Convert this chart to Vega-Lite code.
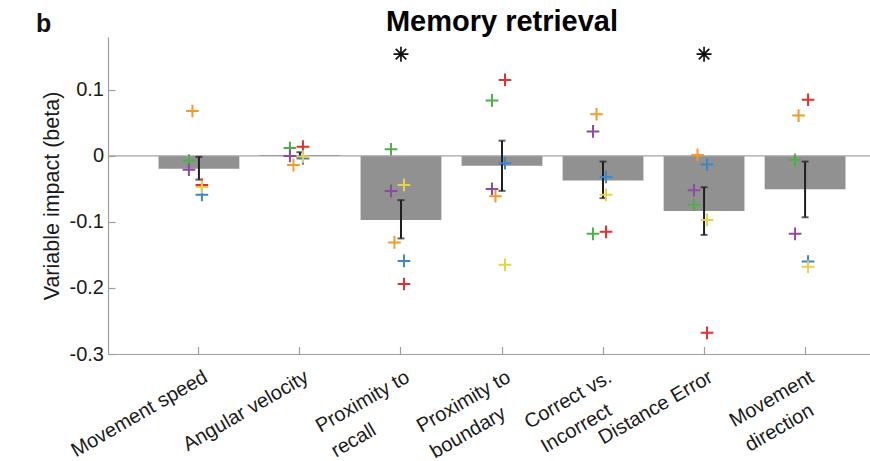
{
  "$schema": "https://vega.github.io/schema/vega-lite/v6.json",
  "background": "white",
  "padding": {"left": 36, "top": 8, "right": 0, "bottom": 0},
  "config": {
    "font": "Liberation Sans",
    "view": {"stroke": null}
  },
  "title": {
    "text": "b",
    "anchor": "start",
    "frame": "bounds",
    "fontSize": 25,
    "fontWeight": "bold",
    "color": "#111111",
    "dx": -5,
    "offset": -29
  },
  "datasets": {
    "bars": [
      {"variable": "Movement speed", "mean": -0.0195, "lo": -0.036, "hi": -0.0015},
      {"variable": "Angular velocity", "mean": 0.0012, "lo": -0.002, "hi": 0.0055},
      {"variable": "Proximity to\nrecall", "mean": -0.097, "lo": -0.125, "hi": -0.067},
      {"variable": "Proximity to\nboundary", "mean": -0.0148, "lo": -0.053, "hi": 0.023},
      {"variable": "Correct vs.\nIncorrect", "mean": -0.0373, "lo": -0.064, "hi": -0.0086},
      {"variable": "Distance Error", "mean": -0.0833, "lo": -0.1197, "hi": -0.0475},
      {"variable": "Movement\ndirection", "mean": -0.0505, "lo": -0.093, "hi": -0.0086}
    ],
    "subjects": [
      {"variable": "Movement speed", "subject": "S1", "beta": -0.044},
      {"variable": "Movement speed", "subject": "S2", "beta": -0.059},
      {"variable": "Movement speed", "subject": "S3", "beta": -0.007},
      {"variable": "Movement speed", "subject": "S4", "beta": -0.021},
      {"variable": "Movement speed", "subject": "S5", "beta": 0.068},
      {"variable": "Movement speed", "subject": "S6", "beta": -0.047},
      {"variable": "Angular velocity", "subject": "S1", "beta": 0.014},
      {"variable": "Angular velocity", "subject": "S2", "beta": -0.004},
      {"variable": "Angular velocity", "subject": "S3", "beta": 0.012},
      {"variable": "Angular velocity", "subject": "S4", "beta": 0.0},
      {"variable": "Angular velocity", "subject": "S5", "beta": -0.014},
      {"variable": "Angular velocity", "subject": "S6", "beta": -0.001},
      {"variable": "Proximity to\nrecall", "subject": "S1", "beta": -0.194},
      {"variable": "Proximity to\nrecall", "subject": "S2", "beta": -0.159},
      {"variable": "Proximity to\nrecall", "subject": "S3", "beta": 0.010},
      {"variable": "Proximity to\nrecall", "subject": "S4", "beta": -0.053},
      {"variable": "Proximity to\nrecall", "subject": "S5", "beta": -0.131},
      {"variable": "Proximity to\nrecall", "subject": "S6", "beta": -0.044},
      {"variable": "Proximity to\nboundary", "subject": "S1", "beta": 0.115},
      {"variable": "Proximity to\nboundary", "subject": "S2", "beta": -0.011},
      {"variable": "Proximity to\nboundary", "subject": "S3", "beta": 0.084},
      {"variable": "Proximity to\nboundary", "subject": "S4", "beta": -0.050},
      {"variable": "Proximity to\nboundary", "subject": "S5", "beta": -0.061},
      {"variable": "Proximity to\nboundary", "subject": "S6", "beta": -0.165},
      {"variable": "Correct vs.\nIncorrect", "subject": "S1", "beta": -0.115},
      {"variable": "Correct vs.\nIncorrect", "subject": "S2", "beta": -0.032},
      {"variable": "Correct vs.\nIncorrect", "subject": "S3", "beta": -0.118},
      {"variable": "Correct vs.\nIncorrect", "subject": "S4", "beta": 0.037},
      {"variable": "Correct vs.\nIncorrect", "subject": "S5", "beta": 0.063},
      {"variable": "Correct vs.\nIncorrect", "subject": "S6", "beta": -0.059},
      {"variable": "Distance Error", "subject": "S1", "beta": -0.268},
      {"variable": "Distance Error", "subject": "S2", "beta": -0.013},
      {"variable": "Distance Error", "subject": "S3", "beta": -0.074},
      {"variable": "Distance Error", "subject": "S4", "beta": -0.052},
      {"variable": "Distance Error", "subject": "S5", "beta": 0.0015},
      {"variable": "Distance Error", "subject": "S6", "beta": -0.097},
      {"variable": "Movement\ndirection", "subject": "S1", "beta": 0.085},
      {"variable": "Movement\ndirection", "subject": "S2", "beta": -0.160},
      {"variable": "Movement\ndirection", "subject": "S3", "beta": -0.006},
      {"variable": "Movement\ndirection", "subject": "S4", "beta": -0.118},
      {"variable": "Movement\ndirection", "subject": "S5", "beta": 0.061},
      {"variable": "Movement\ndirection", "subject": "S6", "beta": -0.168}
    ],
    "significance": [
      {"variable": "Proximity to\nrecall", "beta": 0.154},
      {"variable": "Distance Error", "beta": 0.154}
    ]
  },
  "vconcat": [
    {
      "width": 764,
      "height": 317,
      "title": {
        "text": "Memory retrieval",
        "fontSize": 29,
        "fontWeight": "bold",
        "color": "#000000",
        "anchor": "middle",
        "frame": "group",
        "dx": 12,
        "offset": 0
      },
      "layer": [
        {
          "data": {"name": "bars"},
          "mark": {"type": "bar", "color": "#919191"},
          "encoding": {
            "x": {
              "field": "variable",
              "type": "nominal",
              "title": null,
              "scale": {
                "domain": ["Movement speed", "Angular velocity", "Proximity to\nrecall", "Proximity to\nboundary", "Correct vs.\nIncorrect", "Distance Error", "Movement\ndirection"],
                "range": [0, 788],
                "paddingInner": 0.2,
                "paddingOuter": 0.5
              },
              "axis": {
                "labelAngle": -30,
                "labelAlign": "right",
                "labelBaseline": "top",
                "labelFontSize": 20,
                "labelColor": "#1a1a1a",
                "labelLineHeight": 29,
                "labelOffset": 2,
                "labelPadding": 20,
                "labelOverlap": false,
                "labelLimit": 400,
                "labelExpr": "split(replace(replace(replace(replace(datum.label, 'recall', 'recall\u00a0\u00a0\u00a0\u00a0\u00a0\u00a0\u00a0\u00a0\u00a0\u00a0\u200b'), 'boundary', 'boundary\u00a0\u00a0\u00a0\u00a0\u200b'), 'Incorrect', 'Incorrect\u00a0\u00a0\u00a0\u200b'), 'direction', 'direction\u00a0\u00a0\u00a0\u200b'), '\\n')",
                "tickSize": -7.5,
                "tickColor": "#9e9e9e",
                "tickWidth": 1.2,
                "domainColor": "#9e9e9e",
                "domainWidth": 1.2
              }
            },
            "y": {
              "field": "mean",
              "type": "quantitative",
              "title": "Variable impact (beta)",
              "scale": {"domain": [-0.3, 0.18], "nice": false, "zero": false},
              "axis": {
                "values": [-0.3, -0.2, -0.1, 0, 0.1],
                "labelExpr": "datum.value == 0 ? '0' : (datum.value < 0 ? '-' : '') + format(abs(datum.value), '.1f')",
                "labelFontSize": 20,
                "labelColor": "#1a1a1a",
                "labelPadding": 11.5,
                "tickSize": -7,
                "tickColor": "#9e9e9e",
                "tickWidth": 1.2,
                "domainColor": "#9e9e9e",
                "domainWidth": 1.2,
                "grid": false,
                "titleFontSize": 21.5,
                "titleFontWeight": "normal",
                "titleColor": "#1a1a1a",
                "titlePadding": 6
              }
            }
          }
        },
        {
          "data": {"values": [{"level": 0}]},
          "mark": {"type": "rule", "color": "#a3a3a3", "strokeWidth": 1.3},
          "encoding": {
            "y": {"field": "level", "type": "quantitative", "title": "Variable impact (beta)"}
          }
        },
        {
          "data": {"name": "bars"},
          "mark": {"type": "rule", "color": "#1f1f1f", "strokeWidth": 2},
          "encoding": {
            "x": {"field": "variable", "type": "nominal", "title": null},
            "y": {"field": "lo", "type": "quantitative", "title": "Variable impact (beta)"},
            "y2": {"field": "hi"}
          }
        },
        {
          "data": {"name": "bars"},
          "mark": {"type": "tick", "color": "#1f1f1f", "thickness": 2, "size": 7},
          "encoding": {
            "x": {"field": "variable", "type": "nominal", "title": null},
            "y": {"field": "lo", "type": "quantitative", "title": "Variable impact (beta)"}
          }
        },
        {
          "data": {"name": "bars"},
          "mark": {"type": "tick", "color": "#1f1f1f", "thickness": 2, "size": 7},
          "encoding": {
            "x": {"field": "variable", "type": "nominal", "title": null},
            "y": {"field": "hi", "type": "quantitative", "title": "Variable impact (beta)"}
          }
        },
        {
          "data": {"name": "subjects"},
          "transform": [{"filter": {"field": "subject", "oneOf": ["S3", "S4"]}}],
          "mark": {"type": "point", "shape": "M-1,0L1,0M0,-1L0,1", "size": 160, "strokeWidth": 2, "filled": false, "opacity": 1},
          "encoding": {
            "x": {"field": "variable", "type": "nominal", "title": null},
            "xOffset": {"value": 30.4},
            "y": {"field": "beta", "type": "quantitative", "title": "Variable impact (beta)"},
            "color": {
              "field": "subject",
              "type": "nominal",
              "legend": null,
              "scale": {
                "domain": ["S1", "S2", "S3", "S4", "S5", "S6"],
                "range": ["#e3302f", "#3f86c6", "#4daf4a", "#8e4aa0", "#f5992a", "#e6d24e"]
              }
            }
          }
        },
        {
          "data": {"name": "subjects"},
          "transform": [{"filter": {"field": "subject", "oneOf": ["S5"]}}],
          "mark": {"type": "point", "shape": "M-1,0L1,0M0,-1L0,1", "size": 160, "strokeWidth": 2, "filled": false, "opacity": 1},
          "encoding": {
            "x": {"field": "variable", "type": "nominal", "title": null},
            "xOffset": {"value": 33.9},
            "y": {"field": "beta", "type": "quantitative", "title": "Variable impact (beta)"},
            "color": {"field": "subject", "type": "nominal", "legend": null}
          }
        },
        {
          "data": {"name": "subjects"},
          "transform": [{"filter": {"field": "subject", "oneOf": ["S1", "S2", "S6"]}}],
          "mark": {"type": "point", "shape": "M-1,0L1,0M0,-1L0,1", "size": 160, "strokeWidth": 2, "filled": false, "opacity": 1},
          "encoding": {
            "x": {"field": "variable", "type": "nominal", "title": null},
            "xOffset": {"value": 43.4},
            "y": {"field": "beta", "type": "quantitative", "title": "Variable impact (beta)"},
            "color": {"field": "subject", "type": "nominal", "legend": null}
          }
        },
        {
          "data": {"name": "significance"},
          "mark": {"type": "point", "shape": "M-1,0L1,0M0,-1L0,1M-0.7,-0.7L0.7,0.7M-0.7,0.7L0.7,-0.7", "size": 225, "strokeWidth": 1.7, "filled": false, "color": "#111111", "opacity": 1},
          "encoding": {
            "x": {"field": "variable", "type": "nominal", "title": null},
            "y": {"field": "beta", "type": "quantitative", "title": "Variable impact (beta)"}
          }
        }
      ]
    }
  ]
}
